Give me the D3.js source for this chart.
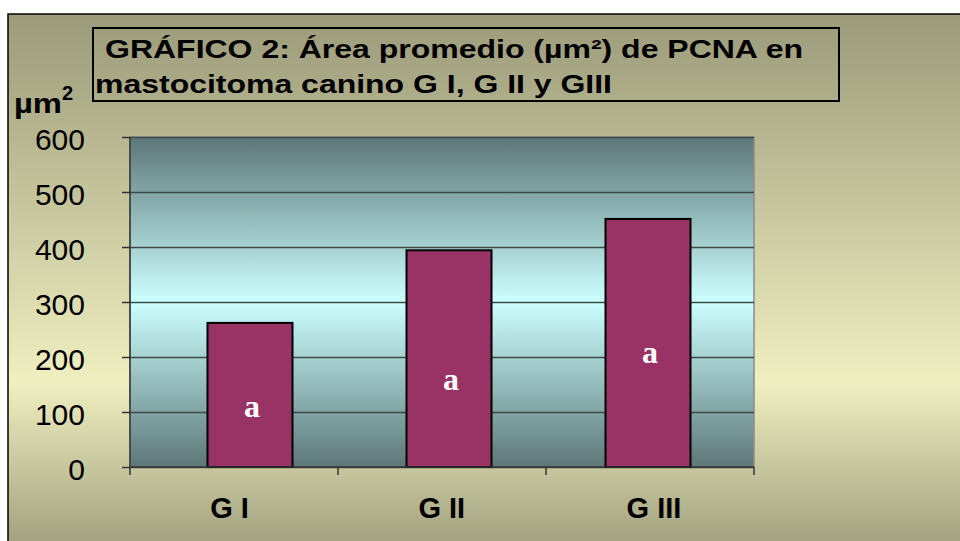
<!DOCTYPE html>
<html>
<head>
<meta charset="utf-8">
<script src="https://cdn.jsdelivr.net/npm/d3@7"></script>
<style>
  body { margin: 0; background: #fff; }
  svg { display: block; font-family: Arial, "Liberation Sans", sans-serif; }
</style>
</head>
<body>
<div class="canvas"></div>
<script>
// data
const categories = ['G I', 'G II', 'G III'];
const areaValues = [262, 394, 451];
const barLabels = ['a', 'a', 'a'];
const yTicks = [0, 100, 200, 300, 400, 500, 600];

const dims = { width: 960, height: 541 };
const plot = { left: 130, right: 754, top: 137, bottom: 467 };

const svg = d3.select('.canvas')
  .append('svg')
  .attr('width', dims.width)
  .attr('height', dims.height);

const defs = svg.append('defs');

// chart background: olive -> pale yellow -> olive
const bgGrad = defs.append('linearGradient')
  .attr('id', 'bgGrad').attr('x1', 0).attr('y1', 0).attr('x2', 0).attr('y2', 1);
bgGrad.append('stop').attr('offset', '0%').attr('stop-color', '#9b9a7a');
bgGrad.append('stop').attr('offset', '68%').attr('stop-color', '#efefc0');
bgGrad.append('stop').attr('offset', '100%').attr('stop-color', '#9d9c7c');

// plot area: dark teal -> light cyan -> dark teal
const plotGrad = defs.append('linearGradient')
  .attr('id', 'plotGrad').attr('x1', 0).attr('y1', 0).attr('x2', 0).attr('y2', 1);
plotGrad.append('stop').attr('offset', '0%').attr('stop-color', '#5d7778');
plotGrad.append('stop').attr('offset', '50%').attr('stop-color', '#ccffff');
plotGrad.append('stop').attr('offset', '100%').attr('stop-color', '#5d7778');

svg.append('rect')
  .attr('x', 8).attr('y', 14)
  .attr('width', dims.width).attr('height', dims.height)
  .attr('fill', 'url(#bgGrad)')
  .attr('stroke', '#000').attr('stroke-width', 1.5);

// scales
const y = d3.scaleLinear().domain([0, 600]).range([plot.bottom, plot.top]);
const xAxisBand = d3.scaleBand().domain(categories).range([plot.left, plot.right]);
const xBar = d3.scalePoint().domain(categories).range([250, 648]);
const xLabel = d3.scalePoint().domain(categories).range([229.5, 654]);
const barWidth = 85;

svg.append('rect')
  .attr('x', plot.left).attr('y', plot.top)
  .attr('width', plot.right - plot.left).attr('height', plot.bottom - plot.top)
  .attr('fill', 'url(#plotGrad)')
  .attr('stroke', '#8a8a8a').attr('stroke-width', 1.5);

// gridlines
svg.append('g')
  .attr('transform', `translate(${plot.left},0)`)
  .call(d3.axisLeft(y).tickValues(yTicks).tickSize(-(plot.right - plot.left)).tickFormat(''))
  .call(g => g.select('.domain').remove())
  .call(g => g.selectAll('line').attr('stroke', '#3c4a4a').attr('stroke-width', 1.5));

// bars
svg.append('g').selectAll('rect')
  .data(areaValues)
  .join('rect')
    .attr('x', (d, i) => xBar(categories[i]) - barWidth / 2)
    .attr('y', d => y(d))
    .attr('width', barWidth)
    .attr('height', d => y(0) - y(d))
    .attr('fill', '#993366')
    .attr('stroke', '#000')
    .attr('stroke-width', 2);

// "a" labels inside the bars
const labelShift = [22, 31, 20];
svg.append('g').selectAll('text')
  .data(areaValues)
  .join('text')
    .attr('x', (d, i) => xBar(categories[i]) + 2)
    .attr('y', (d, i) => y(d / 2) + labelShift[i])
    .attr('text-anchor', 'middle')
    .attr('font-family', '"Liberation Serif", "Times New Roman", serif')
    .attr('font-weight', 'bold')
    .attr('font-size', 32)
    .attr('fill', '#fff')
    .text((d, i) => barLabels[i]);

// y axis
const yAxis = svg.append('g')
  .attr('transform', `translate(${plot.left},0)`)
  .call(d3.axisLeft(y).tickValues(yTicks).tickSize(8).tickPadding(37));
yAxis.select('.domain').attr('d', `M0,${plot.top}V${plot.bottom + 8}`)
  .attr('stroke', '#333').attr('stroke-width', 1.5);
yAxis.selectAll('line').attr('stroke', '#333').attr('stroke-width', 1.5);
yAxis.selectAll('text')
  .attr('font-family', 'Arial, "Liberation Sans", sans-serif')
  .attr('font-size', 30)
  .attr('fill', '#000')
  .attr('dy', '0.40em');

// x axis line and boundary ticks
const xAxis = svg.append('g')
  .attr('transform', `translate(0,${plot.bottom})`);
xAxis.append('line')
  .attr('x1', plot.left).attr('x2', plot.right)
  .attr('stroke', '#333').attr('stroke-width', 1.5);
xAxis.selectAll('.tick')
  .data(categories.slice(1).map(c => xAxisBand(c)).concat([plot.right]))
  .join('line')
    .attr('x1', d => d).attr('x2', d => d)
    .attr('y1', 0).attr('y2', 8)
    .attr('stroke', '#333').attr('stroke-width', 1.5);
xAxis.selectAll('text')
  .data(categories)
  .join('text')
    .attr('x', d => xLabel(d))
    .attr('y', 51)
    .attr('text-anchor', 'middle')
    .attr('font-weight', 'bold')
    .attr('font-size', 29)
    .attr('fill', '#000')
    .text(d => d);

// unit label
const unit = svg.append('text')
  .attr('x', 14).attr('y', 113)
  .attr('font-weight', 'bold')
  .attr('font-size', 28)
  .attr('fill', '#000');
unit.append('tspan').attr('textLength', 48).attr('lengthAdjust', 'spacingAndGlyphs').text('µm');
unit.append('tspan').attr('font-size', 20).attr('dy', -13).text('2');

// title box
svg.append('rect')
  .attr('x', 93).attr('y', 28)
  .attr('width', 746).attr('height', 73)
  .attr('fill', 'none')
  .attr('stroke', '#000').attr('stroke-width', 2);

const title = svg.append('g')
  .attr('font-weight', 'bold')
  .attr('font-size', 26)
  .attr('fill', '#000');
title.append('text').attr('x', 105).attr('y', 58)
  .attr('textLength', 698).attr('lengthAdjust', 'spacingAndGlyphs')
  .text('GRÁFICO 2: Área promedio (µm²) de PCNA en');
title.append('text').attr('x', 95).attr('y', 93)
  .attr('textLength', 517).attr('lengthAdjust', 'spacingAndGlyphs')
  .text('mastocitoma canino G I, G II y GIII');
</script>
</body>
</html>
